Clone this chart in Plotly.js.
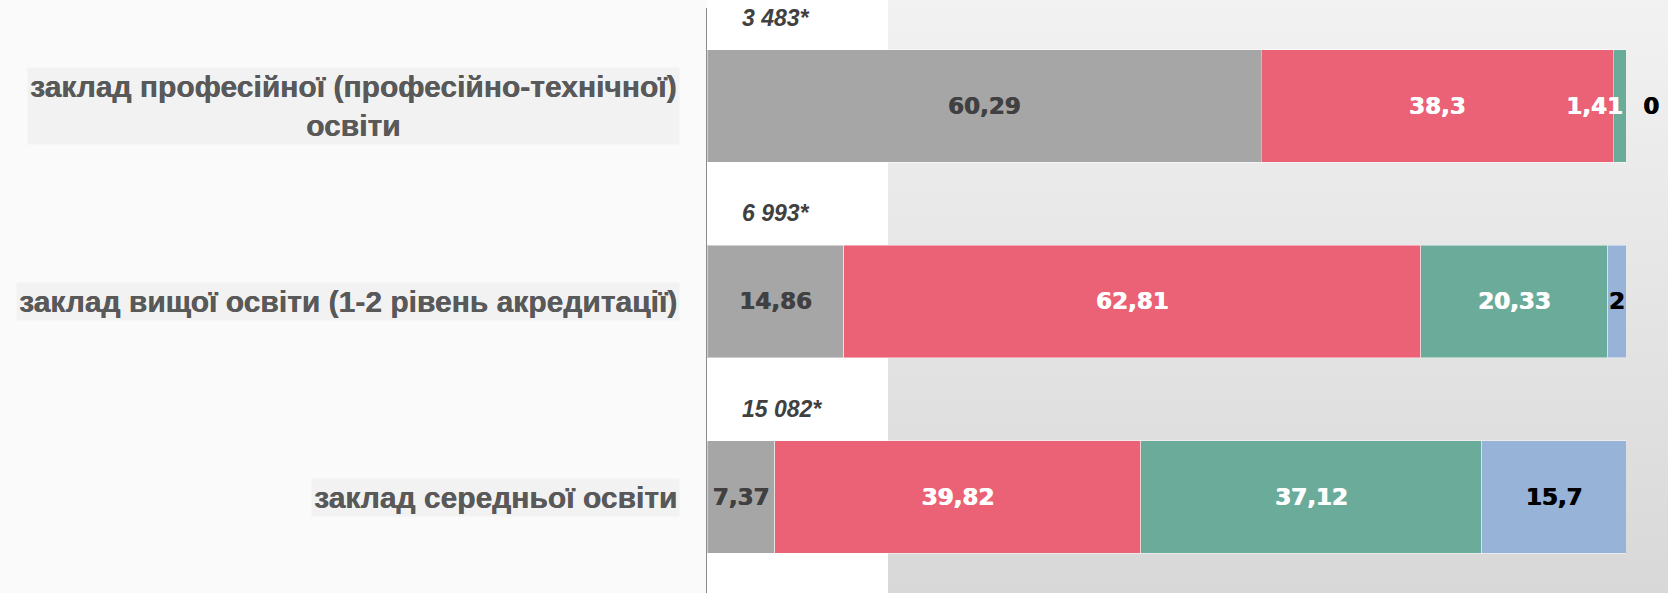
<!DOCTYPE html>
<html>
<head>
<meta charset="utf-8">
<script src="https://cdn.plot.ly/plotly-3.0.1.min.js"></script>
<style>
  html, body { margin: 0; padding: 0; }
  #chart {
    width: 1668px; height: 593px;
    background:
      linear-gradient(to right, #fafafa 0px, #fafafa 707px, #ffffff 707px, #ffffff 888px, rgba(255,255,255,0) 888px),
      linear-gradient(to bottom, #f2f2f2, #d8d8d8);
  }
</style>
</head>
<body>
<div id="chart"></div>
<script>
// ---- data ----
const categories = [
  'заклад професійної (професійно-технічної)<br>освіти',
  'заклад вищої освіти (1-2 рівень акредитації)',
  'заклад середньої освіти'
];
const totals = ['3 483*', '6 993*', '15 082*'];
const seriesNames = ['Серія 1', 'Серія 2', 'Серія 3', 'Серія 4'];
const greyValues  = [60.29, 14.86, 7.37];
const redValues   = [38.3, 62.81, 39.82];
const greenValues = [1.41, 20.33, 37.12];
const blueValues  = [0, 2, 15.7];

// ---- styling ----
const seriesValues = [greyValues, redValues, greenValues, blueValues];
const colors = ['#a6a6a6', '#eb6175', '#6bab9a', '#97b4d8'];
const textColors = ['#404040', '#ffffff', '#ffffff', '#000000'];
// points whose labels sit outside the bar are drawn as annotations
const textPos = [
  ['inside', 'inside', 'inside'],
  ['inside', 'inside', 'inside'],
  ['none', 'inside', 'inside'],
  ['none', 'inside', 'inside']
];
const fmt = v => String(v).replace('.', ',');
const labelFont = (c) => ({ family: 'DejaVu Sans', size: 23, weight: 'bold', color: c,
                            shadow: '0.8px 0 0 ' + c });

const traces = seriesValues.map((vals, i) => ({
  type: 'bar',
  orientation: 'h',
  name: seriesNames[i],
  y: categories,
  x: vals,
  text: vals.map(fmt),
  textposition: textPos[i],
  insidetextanchor: 'middle',
  constraintext: 'none',
  textangle: 0,
  textfont: labelFont(textColors[i]),
  marker: { color: colors[i], line: { color: 'rgba(255,255,255,0.45)', width: 1 } },
  hoverinfo: 'x+y'
}));

const annotations = [];
// category labels with light boxes
categories.forEach(c => {
  annotations.push({
    xref: 'paper', yref: 'y', x: 0, y: c, xanchor: 'right', yanchor: 'middle',
    xshift: -27, text: c, showarrow: false, align: 'center',
    bgcolor: '#f2f2f2', borderpad: 2,
    font: { family: 'Liberation Sans, Arial', size: 30, weight: 'bold', color: '#595959',
            shadow: '0.4px 0 0 #595959' }
  });
});
// totals above bars
categories.forEach((c, k) => {
  annotations.push({
    xref: 'paper', yref: 'y', x: 0, y: c, xanchor: 'left', yanchor: 'middle',
    xshift: 33, yshift: 88, text: totals[k], showarrow: false,
    font: { family: 'Liberation Sans, Arial', size: 23, style: 'italic', weight: 'bold', color: '#404040' }
  });
});
// labels for tiny bars (first category): green end and blue zero value
{
  const k = 0;
  const greenEnd = greyValues[k] + redValues[k] + greenValues[k];
  annotations.push({
    xref: 'x', yref: 'y', x: greenEnd, y: categories[k], xanchor: 'right', yanchor: 'middle',
    xshift: -1, text: fmt(greenValues[k]), showarrow: false,
    font: labelFont('#ffffff')
  });
  annotations.push({
    xref: 'x', yref: 'y', x: greenEnd + blueValues[k], y: categories[k], xanchor: 'left', yanchor: 'middle',
    xshift: 15, text: fmt(blueValues[k]), showarrow: false,
    font: labelFont('#000000')
  });
}

const layout = {
  width: 1668, height: 593,
  margin: { l: 707, r: 42, t: 8, b: 0 },
  paper_bgcolor: 'rgba(0,0,0,0)',
  plot_bgcolor: 'rgba(0,0,0,0)',
  barmode: 'stack',
  bargap: 0.426,
  showlegend: false,
  xaxis: { range: [0, 100], visible: false, fixedrange: true },
  yaxis: {
    type: 'category', range: [2.491, -0.501],
    showticklabels: false, showgrid: false, zeroline: false, ticks: '',
    showline: true, linecolor: '#8c8c8c', linewidth: 1.5, fixedrange: true
  },
  annotations: annotations
};

Plotly.newPlot('chart', traces, layout, { displayModeBar: false, staticPlot: true });
</script>
</body>
</html>
